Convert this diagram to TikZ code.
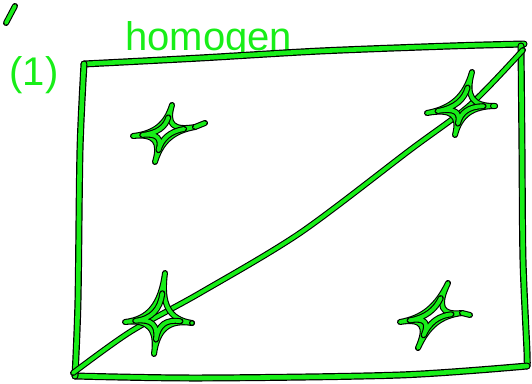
\documentclass[tikz,border=0pt]{standalone}
\usepackage{fontspec}
\setmainfont{Liberation Sans}
\usetikzlibrary{calc}
\definecolor{penGreen}{RGB}{24,238,24}
\tikzset{
  pen/.style={draw=penGreen, line width=3.8pt, line cap=round, line join=round,
    preaction={draw=black, line width=6pt, line cap=round, line join=round}},
  thickpen/.style={draw=penGreen, line width=4.6pt, line cap=round, line join=round,
    preaction={draw=black, line width=7pt, line cap=round, line join=round}},
  handtext/.style={text=penGreen, inner sep=0pt, anchor=base west}
}
\newcommand\skstar[6]{%
  \coordinate (#1t) at (#2);
  \coordinate (#1l) at (#3);
  \coordinate (#1b) at (#4);
  \coordinate (#1r) at (#5);
  \coordinate (#1c) at ($0.25*(#1t)+0.25*(#1l)+0.25*(#1b)+0.25*(#1r)$);
  \draw[pen] (#1t)
    .. controls ($(#1t)!0.7!(#1c)$) and ($(#1l)!0.7!(#1c)$) .. (#1l)
    .. controls ($(#1l)!0.7!(#1c)$) and ($(#1b)!0.7!(#1c)$) .. (#1b)
    .. controls ($(#1b)!0.7!(#1c)$) and ($(#1r)!0.7!(#1c)$) .. (#1r)
    .. controls ($(#1r)!0.7!(#1c)$) and ($(#1t)!0.7!(#1c)$) .. (#1t);
  \draw[pen] ($(#1t)!0.45!(#1c)$)
    .. controls ($(#1t)!0.8!(#1c)$) and ($(#1l)!0.8!(#1c)$) .. ($(#1l)!0.3!(#1c)$)
    .. controls ($(#1l)!0.8!(#1c)$) and ($(#1b)!0.8!(#1c)$) .. ($(#1b)!0.4!(#1c)$)
    .. controls ($(#1b)!0.8!(#1c)$) and ($(#1r)!0.8!(#1c)$) .. ($(#1r)!0.35!(#1c)$);
  \draw[pen] (#1r) .. controls ($(#1r)+(#6)$) .. ($(#1r)+2*(#6)$);
}
\begin{document}
\begin{tikzpicture}[x=1pt,y=-1pt]
\useasboundingbox (0,0) rectangle (532,383);
% title and label
\node[handtext] (title) at (125,50) {\fontsize{40}{40}\selectfont homogen};
\node[text=penGreen, inner sep=0pt] (label) at (34,75) {\fontsize{40}{40}\selectfont (1)};
\draw[pen] (15,6) -- (6,23);
% frame
\draw[thickpen] plot[smooth] coordinates {(84,64) (200,58) (320,51) (450,46) (524,44)};
\draw[thickpen] plot[smooth] coordinates {(521,46) (522,150) (523,260) (527,352) (527,366)};
\draw[thickpen] plot[smooth] coordinates {(527,366) (400,375) (200,378) (75,376)};
\draw[thickpen] plot[smooth] coordinates {(75,376) (78,300) (80,150) (84,64)};
% diagonal
\coordinate (dA) at (73,373);
\coordinate (dB) at (523,50);
\draw[pen] plot[smooth] coordinates {(dA) (130,332) (200,293) (300,233) (410,150) (470,105) (dB)};
% stars
\skstar{s1}{172,105}{133,136}{155,162}{195,127}{5,-2}
\skstar{s2}{472,72}{427,113}{455,135}{495,106}{-1,0}
\skstar{s3}{165,273}{125,322}{154,354}{192,323}{0,0}
\skstar{s4}{448,283}{400,322}{418,348}{462,313}{4,1}
\end{tikzpicture}
\end{document}
